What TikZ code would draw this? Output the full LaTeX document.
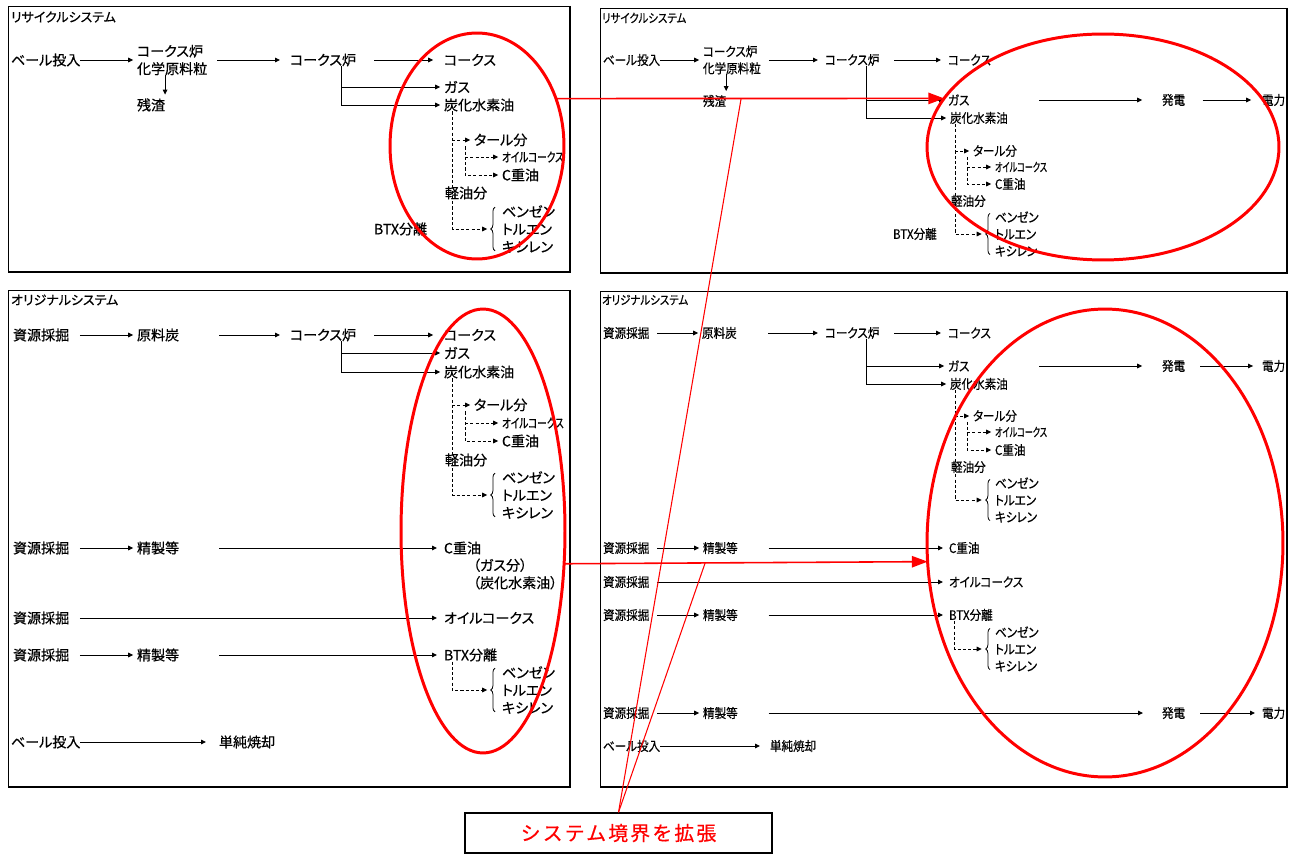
\documentclass[tikz,border=0pt]{standalone}
\usepackage{fontspec}
\usetikzlibrary{arrows.meta,calc,shapes.geometric,decorations.pathreplacing}
\newfontfamily\jpfont[RawFeature={+palt},FakeBold=0.5]{Noto Sans CJK JP}
\newfontfamily\jpnarrow[RawFeature={+palt},FakeStretch=0.89,FakeBold=0.5]{Noto Sans CJK JP}
\newfontfamily\jpslimL[RawFeature={+palt},FakeStretch=0.74,FakeBold=0.5]{Noto Sans CJK JP}
\newfontfamily\jpslimR[RawFeature={+palt},FakeStretch=0.66,FakeBold=0.5]{Noto Sans CJK JP}
\newfontfamily\jptitleR[RawFeature={+palt},FakeStretch=0.85,FakeBold=0.5]{Noto Sans CJK JP}
\newfontfamily\jpwide[LetterSpace=11,FakeBold=0.5]{Noto Sans CJK JP}
\newcommand\bodyL{\jpfont\fontsize{8pt}{10pt}\selectfont}
\newcommand\bodyR{\jpnarrow\fontsize{7.4pt}{9.6pt}\selectfont}
\newcommand\slimL{\jpslimL\fontsize{7.4pt}{9pt}\selectfont}
\newcommand\slimR{\jpslimR\fontsize{7pt}{9pt}\selectfont}
\newcommand\titleL{\jpfont\fontsize{7.4pt}{9pt}\selectfont}
\newcommand\titleR{\jptitleR\fontsize{7pt}{9pt}\selectfont}
\newcommand\boxtext{\jpwide\fontsize{11.3pt}{13pt}\selectfont}

\begin{document}
\begin{tikzpicture}[x=0.02cm, y=-0.02cm,
  lt/.style={anchor=west, inner sep=0pt, outer sep=0pt, align=left, font=\bodyL},
  rt/.style={lt, font=\bodyR},
  ls/.style={lt, font=\slimL},
  rs/.style={lt, font=\slimR},
  ttl/.style={lt, font=\titleL},
  rttl/.style={lt, font=\titleR},
  arr/.style={-{Triangle[length=2.8pt,width=2.6pt]}, line width=0.5pt, shorten >=2.2pt},
  dsh/.style={arr, dash pattern=on 1.8pt off 1.2pt},
  brc/.style={decorate, decoration={brace, amplitude=2.4pt}, line width=0.45pt},
  ring/.style={ellipse, draw=red, line width=1.7pt, inner sep=0pt, outer sep=0pt},
  redarr/.style={draw=red, line width=0.9pt, -{Triangle[length=9pt,width=6.5pt]}},
  redln/.style={draw=red, line width=0.6pt},
  panel/.style={line width=0.5pt},
  rim/.style={line width=1.3pt}]
\useasboundingbox (0,0) rectangle (1293,854);

% ---------------- top left: recycle system
\draw[panel] (8,6) rectangle (570,272);
\draw[rim] (570,6) -- (570,272) -- (8,272);
\node[ttl] (aT) at (11,17) {リサイクルシステム};
\node[lt] (aBale) at (11,60) {ベール投入};
\node[lt] (aChem) at (137,60) {コークス炉\\化学原料粒};
\node[lt] (aRes) at (137,105) {残渣};
\node[lt] (aOven) at (290,60) {コークス炉};
\node[lt] (aCoke) at (444,60) {コークス};
\node[lt] (aGas) at (444,87) {ガス};
\node[lt] (aHc) at (444,105) {炭化水素油};
\node[lt] (aTar) at (474,140) {タール分};
\node[ls] (aOc) at (502,157) {オイルコークス};
\node[lt] (aCh) at (502,175) {C重油};
\node[lt] (aLo) at (445,193) {軽油分};
\node[lt] (aBtx) at (502,229) {ベンゼン\\トルエン\\キシレン};
\node[lt] (aSep) at (374,229) {BTX分離};
\draw[arr] (aBale) -- (aChem);
\draw[arr, shorten <=5.7pt, shorten >=5.7pt] (aChem) -- (aOven);
\draw[arr, shorten <=10.2pt, shorten >=6.2pt] (aOven) -- (aCoke);
\draw[arr] (aChem.south -| aRes.east) -- (aRes.north east);
\coordinate (aJ) at ($(aOven.south east)+(-15,0)$);
\draw[arr] (aJ) |- (aHc);
\draw[arr] (aJ |- aGas) -- (aGas);
\coordinate (aD) at ($(aHc.south west)+(8,0)$);
\coordinate (aE) at ($(aTar.south west)+(-9,0)$);
\coordinate (aBr) at ($(aBtx.west)+(-11,0)$);
\draw[dsh] (aD) |- (aBr);
\draw[dsh] (aD |- aTar) -- (aTar);
\draw[dsh] (aE) |- (aCh);
\draw[dsh] (aE |- aOc) -- (aOc);
\draw[brc] ($(aBtx.south west)+(-7,-2)$) -- ($(aBtx.north west)+(-7,2)$);

% ---------------- top right: recycle system, boundary widened
\draw[panel] (600,8) rectangle (1287,273);
\draw[rim] (1287,8) -- (1287,273) -- (600,273);
\node[rttl] (bT) at (602,18) {リサイクルシステム};
\node[rt] (bBale) at (603,60) {ベール投入};
\node[rt] (bChem) at (703,60) {コークス炉\\化学原料粒};
\node[rt] (bRes) at (703,101) {残渣};
\node[rt] (bOven) at (825,60) {コークス炉};
\node[rt] (bCoke) at (948,60) {コークス};
\node[rt] (bGas) at (948,100) {ガス};
\node[rt] (bHc) at (950,118) {炭化水素油};
\node[rt] (bPow) at (1162,100) {発電};
\node[rt] (bEl) at (1262,100) {電力};
\node[rt] (bTar) at (973,151) {タール分};
\node[rs] (bOc) at (995,167) {オイルコークス};
\node[rt] (bCh) at (995,184) {C重油};
\node[rt] (bLo) at (951,201) {軽油分};
\node[rt] (bBtx) at (995,234) {ベンゼン\\トルエン\\キシレン};
\node[rt] (bSep) at (893,234) {BTX分離};
\draw[arr] (bBale) -- (bChem);
\draw[arr, shorten <=4.5pt, shorten >=4pt] (bChem) -- (bOven);
\draw[arr, shorten <=8.5pt, shorten >=4pt] (bOven) -- (bCoke);
\draw[arr] (bChem.south -| bRes.east) -- (bRes.north east);
\coordinate (bJ) at ($(bOven.south east)+(-13,0)$);
\draw[arr] (bJ) |- (bHc);
\draw[arr] (bJ |- bGas) -- (bGas);
\draw[arr, shorten <=39.7pt, shorten >=11.3pt] (bGas) -- (bPow);
\draw[arr, shorten <=10pt, shorten >=6.2pt] (bPow) -- (bEl);
\coordinate (bD) at ($(bHc.south west)+(5,0)$);
\coordinate (bE) at ($(bTar.south west)+(-6,0)$);
\coordinate (bBr) at ($(bBtx.west)+(-9.5,0)$);
\draw[dsh] (bD) |- (bBr);
\draw[dsh] (bD |- bTar) -- (bTar);
\draw[dsh] (bE) |- (bCh);
\draw[dsh] (bE |- bOc) -- (bOc);
\draw[brc] ($(bBtx.south west)+(-5,-2)$) -- ($(bBtx.north west)+(-5,2)$);

% ---------------- bottom left: original system
\draw[panel] (8,290) rectangle (570,787);
\draw[rim] (570,290) -- (570,787) -- (8,787);
\node[ttl] (cT) at (11,300) {オリジナルシステム};
\node[lt] (cMine1) at (13,335) {資源採掘};
\node[lt] (cCoal) at (137,335) {原料炭};
\node[lt] (cOven) at (290,335) {コークス炉};
\node[lt] (cCoke) at (444,335) {コークス};
\node[lt] (cGas) at (444,353) {ガス};
\node[lt] (cHc) at (444,372) {炭化水素油};
\node[lt] (cTar) at (474,405) {タール分};
\node[ls] (cOc) at (502,423) {オイルコークス};
\node[lt] (cCh) at (502,441) {C重油};
\node[lt] (cLo) at (445,460) {軽油分};
\node[lt] (cBtx) at (502,495) {ベンゼン\\トルエン\\キシレン};
\node[lt] (cMine2) at (13,548) {資源採掘};
\node[lt] (cRef1) at (137,548) {精製等};
\node[lt] (cCh2) at (444,548) {C重油};
\node[lt] (cNote) at (473,574) {（ガス分）\\（炭化水素油）};
\node[lt] (cMine3) at (13,618) {資源採掘};
\node[lt] (cOc2) at (444,618) {オイルコークス};
\node[lt] (cMine4) at (13,655) {資源採掘};
\node[lt] (cRef2) at (137,655) {精製等};
\node[lt] (cSep) at (444,655) {BTX分離};
\node[lt] (cBtx2) at (502,690) {ベンゼン\\トルエン\\キシレン};
\node[lt] (cBale) at (11,742) {ベール投入};
\node[lt] (cInc) at (219,742) {単純焼却};
\draw[arr, shorten <=6pt] (cMine1) -- (cCoal);
\draw[arr, shorten <=22.7pt, shorten >=5.7pt] (cCoal) -- (cOven);
\draw[arr, shorten <=10.2pt, shorten >=6.2pt] (cOven) -- (cCoke);
\coordinate (cJ) at ($(cOven.south east)+(-15,0)$);
\draw[arr] (cJ) |- (cHc);
\draw[arr] (cJ |- cGas) -- (cGas);
\coordinate (cD) at ($(cHc.south west)+(8,0)$);
\coordinate (cE) at ($(cTar.south west)+(-9,0)$);
\coordinate (cBr) at ($(cBtx.west)+(-11,0)$);
\draw[dsh] (cD) |- (cBr);
\draw[dsh] (cD |- cTar) -- (cTar);
\draw[dsh] (cE) |- (cCh);
\draw[dsh] (cE |- cOc) -- (cOc);
\draw[brc] ($(cBtx.south west)+(-7,-2)$) -- ($(cBtx.north west)+(-7,2)$);
\draw[arr, shorten <=6pt] (cMine2) -- (cRef1);
\draw[arr, shorten <=22.7pt, shorten >=4pt] (cRef1) -- (cCh2);
\draw[arr, shorten <=6pt, shorten >=4pt] (cMine3) -- (cOc2);
\draw[arr, shorten <=6pt] (cMine4) -- (cRef2);
\draw[arr, shorten <=22.7pt, shorten >=4pt] (cRef2) -- (cSep);
\coordinate (cF) at ($(cSep.south west)+(8,0)$);
\coordinate (cBr2) at ($(cBtx2.west)+(-11,0)$);
\draw[dsh] (cF) |- (cBr2);
\draw[brc] ($(cBtx2.south west)+(-7,-2)$) -- ($(cBtx2.north west)+(-7,2)$);
\draw[arr, shorten >=7.4pt] (cBale) -- (cInc);

% ---------------- bottom right: original system, boundary widened
\draw[panel] (600,291) rectangle (1287,787);
\draw[rim] (1287,291) -- (1287,787) -- (600,787);
\node[rttl] (dT) at (602,300) {オリジナルシステム};
\node[rt] (dMine1) at (603,333) {資源採掘};
\node[rt] (dCoal) at (702,333) {原料炭};
\node[rt] (dOven) at (825,333) {コークス炉};
\node[rt] (dCoke) at (948,333) {コークス};
\node[rt] (dGas) at (948,366) {ガス};
\node[rt] (dHc) at (950,384) {炭化水素油};
\node[rt] (dPow) at (1162,366) {発電};
\node[rt] (dEl) at (1262,366) {電力};
\node[rt] (dTar) at (973,416) {タール分};
\node[rs] (dOc) at (995,432) {オイルコークス};
\node[rt] (dCh) at (995,450) {C重油};
\node[rt] (dLo) at (951,467) {軽油分};
\node[rt] (dBtx) at (995,500) {ベンゼン\\トルエン\\キシレン};
\node[rt] (dMine2) at (603,548) {資源採掘};
\node[rt] (dRef1) at (703,548) {精製等};
\node[rt] (dCh2) at (949,548) {C重油};
\node[rt] (dMine3) at (603,582) {資源採掘};
\node[rt] (dOc2) at (949,582) {オイルコークス};
\node[rt] (dMine4) at (603,615) {資源採掘};
\node[rt] (dRef2) at (703,615) {精製等};
\node[rt] (dSep) at (949,615) {BTX分離};
\node[rt] (dBtx2) at (995,649) {ベンゼン\\トルエン\\キシレン};
\node[rt] (dMine5) at (603,713) {資源採掘};
\node[rt] (dRef3) at (703,713) {精製等};
\node[rt] (dPow2) at (1162,713) {発電};
\node[rt] (dEl2) at (1262,713) {電力};
\node[rt] (dBale) at (603,746) {ベール投入};
\node[rt] (dInc) at (770,746) {単純焼却};
\draw[arr, shorten <=4.5pt] (dMine1) -- (dCoal);
\draw[arr, shorten <=18pt, shorten >=4pt] (dCoal) -- (dOven);
\draw[arr, shorten <=8.5pt, shorten >=4pt] (dOven) -- (dCoke);
\coordinate (dJ) at ($(dOven.south east)+(-13,0)$);
\draw[arr] (dJ) |- (dHc);
\draw[arr] (dJ |- dGas) -- (dGas);
\draw[arr, shorten <=39.7pt, shorten >=11.3pt] (dGas) -- (dPow);
\draw[arr, shorten <=8.5pt, shorten >=5.1pt] (dPow) -- (dEl);
\coordinate (dD) at ($(dHc.south west)+(5,0)$);
\coordinate (dE) at ($(dTar.south west)+(-6,0)$);
\coordinate (dBr) at ($(dBtx.west)+(-9.5,0)$);
\draw[dsh] (dD) |- (dBr);
\draw[dsh] (dD |- dTar) -- (dTar);
\draw[dsh] (dE) |- (dCh);
\draw[dsh] (dE |- dOc) -- (dOc);
\draw[brc] ($(dBtx.south west)+(-5,-2)$) -- ($(dBtx.north west)+(-5,2)$);
\draw[arr, shorten <=4.5pt] (dMine2) -- (dRef1);
\draw[arr, shorten <=17.6pt, shorten >=3.4pt] (dRef1) -- (dCh2);
\draw[arr, shorten <=4.3pt, shorten >=3.4pt] (dMine3) -- (dOc2);
\draw[arr, shorten <=4.5pt] (dMine4) -- (dRef2);
\draw[arr, shorten <=17.6pt, shorten >=3.4pt] (dRef2) -- (dSep);
\coordinate (dF) at ($(dSep.south west)+(5,0)$);
\coordinate (dBr2) at ($(dBtx2.west)+(-9.5,0)$);
\draw[dsh] (dF) |- (dBr2);
\draw[brc] ($(dBtx2.south west)+(-5,-2)$) -- ($(dBtx2.north west)+(-5,2)$);
\draw[arr, shorten <=4.5pt] (dMine5) -- (dRef3);
\draw[arr, shorten <=17.6pt, shorten >=10.8pt] (dRef3) -- (dPow2);
\draw[arr, shorten <=8.5pt, shorten >=4pt] (dPow2) -- (dEl2);
\draw[arr, shorten >=5.7pt] (dBale) -- (dInc);

% ---------------- boundaries and the note
\node[ring, minimum width=3.48cm, minimum height=4.52cm] (e1) at (477,146) {};
\node[ring, minimum width=7.04cm, minimum height=4.52cm] (e2) at (1103,147) {};
\node[ring, minimum width=3.28cm, minimum height=8.88cm] (e3) at (483,531) {};
\node[ring, minimum width=7.12cm, minimum height=9.36cm] (e4) at (1105,543) {};
\draw[redarr] (e1.31) -- (e2.163);
\draw[redarr] (e3.338.5) -- (e4.186.4);
\node[draw, line width=0.8pt, minimum width=6.14cm, minimum height=0.8cm, inner sep=0pt,
      text=red, font=\boxtext] (bnd) at (618.5,833) {システム境界を拡張};
\coordinate (m1) at ($(e1.31)!0.477!(e2.163)$);
\coordinate (m2) at ($(e3.338.5)!0.388!(e4.186.4)$);
\draw[redln] (m1) -- (bnd.north);
\draw[redln] (m2) -- (bnd.north);
\end{tikzpicture}
\end{document}
